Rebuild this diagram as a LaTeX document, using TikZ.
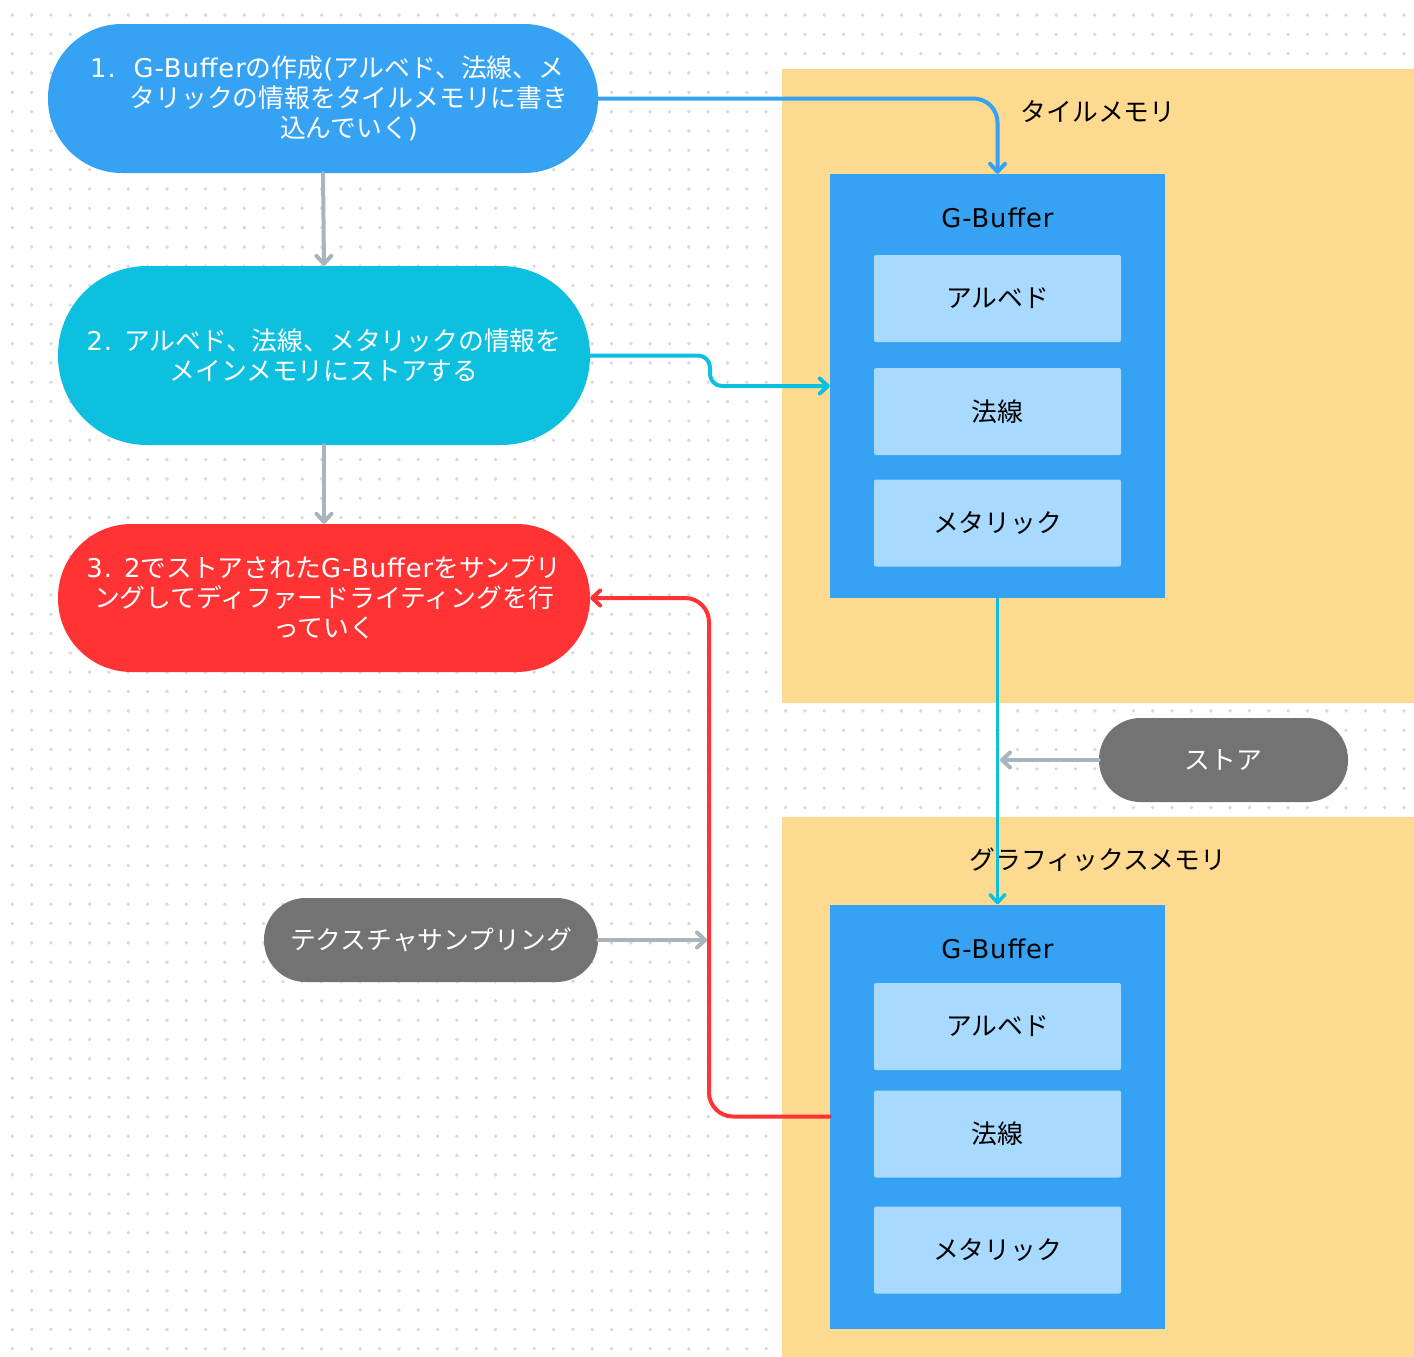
\documentclass[tikz,border=0pt]{standalone}
\usepackage{fontspec}
\setmainfont{Noto Sans CJK JP}
\newfontfamily\lat[LetterSpace=3.5]{DejaVu Sans}
\newcommand{\gbname}{{\lat G-Buffer}}
\usetikzlibrary{arrows.meta}

\definecolor{stepblue}{HTML}{36A2F4}
\definecolor{stepcyan}{HTML}{0DC0DF}
\definecolor{stepred}{HTML}{FF3333}
\definecolor{pillgray}{HTML}{737373}
\definecolor{arrowgray}{HTML}{A9B4BC}
\definecolor{memyellow}{HTML}{FDDA8F}
\definecolor{slotblue}{HTML}{A8DAFF}
\definecolor{dotgray}{HTML}{D6D9E0}

\begin{document}
\begin{tikzpicture}[x=1pt,y=-1pt,
  txt/.style={font=\fontsize{25.8}{30}\selectfont, inner sep=0pt, align=center},
  pill/.style={txt, text=white, minimum width=#1, draw=none},
  memarea/.style={fill=memyellow, draw=none},
  gbuf/.style={fill=stepblue, draw=none, minimum width=335pt, minimum height=424pt, inner sep=0pt},
  slot/.style={txt, fill=slotblue, rounded corners=2pt, minimum width=247pt, minimum height=87pt},
  conn/.style={line width=4pt, line cap=round, line join=round,
    -{Straight Barb[length=8pt,width=15pt,round]}},
]
\useasboundingbox (0,0) rectangle (1414,1357);
\fill[white] (0,0) rectangle (1414,1357);

% dotted background grid
\foreach \i in {0,...,72}{
  \foreach \j in {0,...,70}{
    \fill[dotgray] (12.3+19.33*\i, 15+19.33*\j) circle (1.9pt);
  }
}

% memory areas
\fill[memarea] (782,69) rectangle (1414,703);
\fill[memarea] (782,817) rectangle (1414,1357);
\node[txt] (tilelabel) at (1098,112) {タイルメモリ};
\node[txt] (gfxlabel) at (1098,860) {グラフィックスメモリ};

% G-Buffer in tile memory
\node[gbuf] (gb1) at (997.5,386) {};
\node[txt] (gb1title) at (997.5,218) {\gbname};
\node[slot] (albedo1) at (997.5,298.5) {アルベド};
\node[slot] (normal1) at (997.5,411.5) {法線};
\node[slot] (metal1) at (997.5,523) {メタリック};

% G-Buffer in graphics memory
\node[gbuf] (gb2) at (997.5,1116.5) {};
\node[txt] (gb2title) at (997.5,949) {\gbname};
\node[slot] (albedo2) at (997.5,1026.5) {アルベド};
\node[slot] (normal2) at (997.5,1134) {法線};
\node[slot] (metal2) at (997.5,1250) {メタリック};

% process steps
\node[pill=550pt, fill=stepblue, minimum height=149pt, rounded corners=74pt] (n1) at (323,98.5) {};
\node[txt, text=white] (n1text) at (349,98.5)
  {\llap{\lat 1.\hspace{18pt}}\gbname の作成{\lat (}アルベド、法線、メ\\タリックの情報をタイルメモリに書き\\込んでいく{\lat )}};
\node[pill=532pt, fill=stepcyan, minimum height=179pt, rounded corners=89pt] (n2) at (324,355.5)
  {{\lat 2. }アルベド、法線、メタリックの情報を\\メインメモリにストアする};
\node[pill=532pt, fill=stepred, minimum height=148pt, rounded corners=73.5pt] (n3) at (324,598)
  {{\lat 3. 2}でストアされた\gbname をサンプリ\\ングしてディファードライティングを行\\っていく};

% side labels
\node[pill=249pt, fill=pillgray, minimum height=84pt, rounded corners=41.5pt] (store) at (1223.5,760) {ストア};
\node[pill=334pt, fill=pillgray, minimum height=84pt, rounded corners=41.5pt] (texsamp) at (431,940) {テクスチャサンプリング};

% connectors
\draw[conn, arrowgray] (n1.south) -- (n2.north);
\draw[conn, arrowgray] (n2.south) -- (n3.north);
\draw[conn, stepblue, rounded corners=24pt] (n1.east) -| (gb1.north);
\coordinate (cbend) at (710,355.5);
\draw[conn, stepcyan, rounded corners=12pt] (n2.east) -- (cbend) |- (gb1.west);
\coordinate (rbend) at (709,598);
\draw[conn, stepred, rounded corners=24pt] (gb2.west) -| (rbend) -- (n3.east);
\draw[conn, stepcyan, line width=3.5pt] (gb1.south) -- (gb2.north);
\coordinate (storeend) at (1000,760);
\draw[conn, arrowgray] (store.west) -- (storeend);
\coordinate (texend) at (707,940);
\draw[conn, arrowgray] (texsamp.east) -- (texend);
\end{tikzpicture}
\end{document}
